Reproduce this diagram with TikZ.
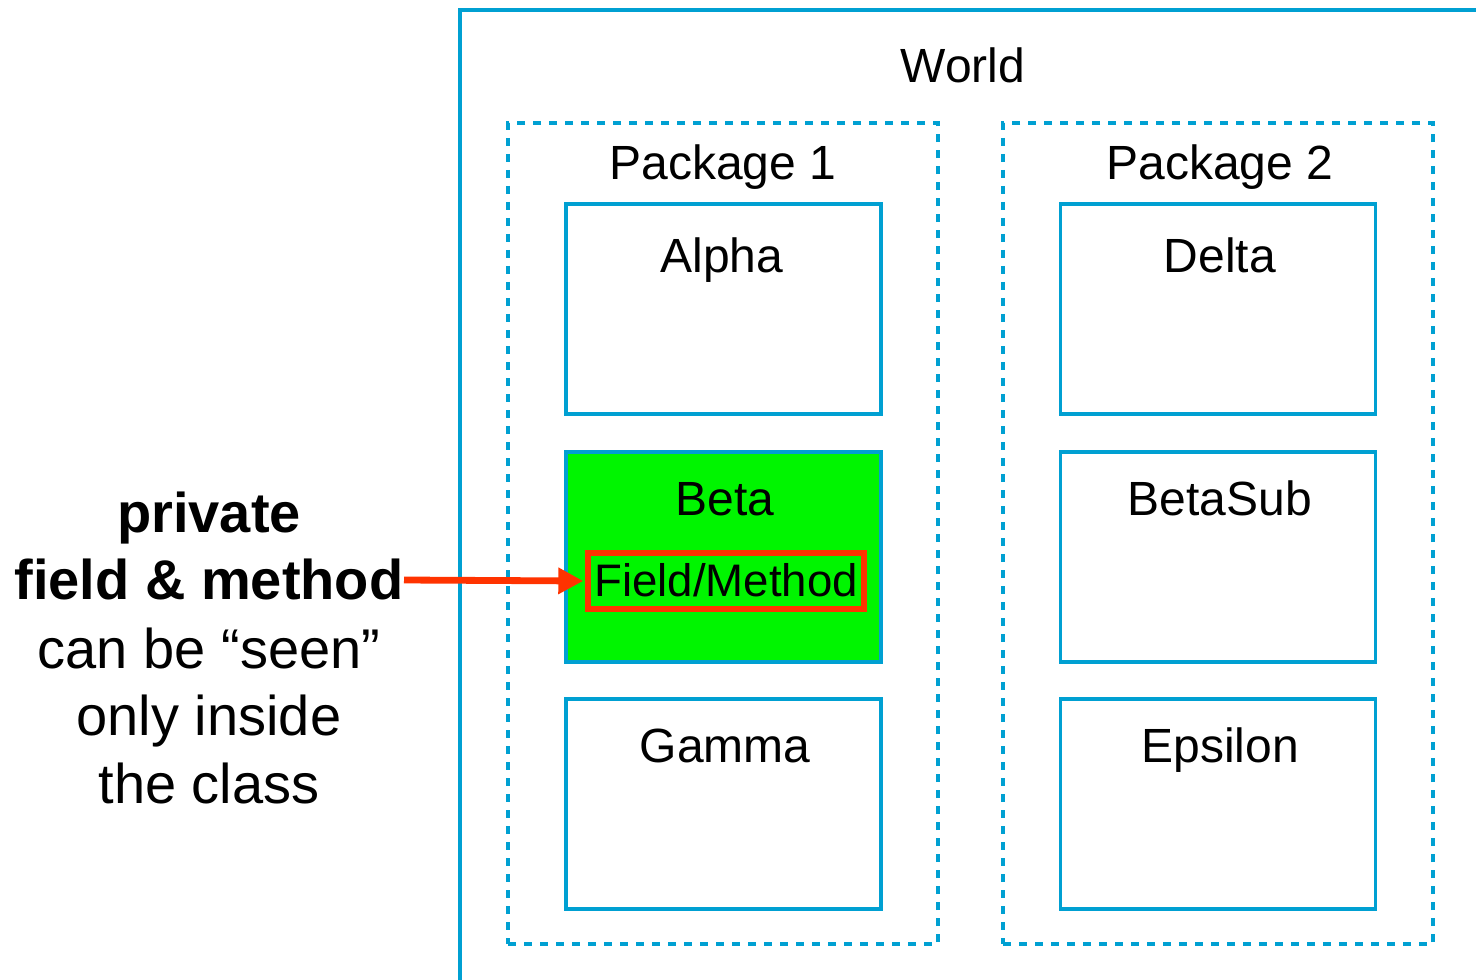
\documentclass[tikz,border=0pt]{standalone}
\usepackage{fontspec}
\setmainfont{Liberation Sans}
\usetikzlibrary{arrows.meta}
\definecolor{frameblue}{RGB}{0,160,210}
\definecolor{arrowred}{RGB}{255,51,0}
\definecolor{betagreen}{RGB}{0,245,0}
\begin{document}
\begin{tikzpicture}[x=0.5pt,y=-0.5pt,
  classbox/.style={draw=frameblue, line width=1.7pt, rectangle, minimum width=157.5pt, minimum height=105pt, inner sep=0pt},
  pkgbox/.style={draw=frameblue, line width=1.9pt, dash pattern=on 4pt off 4pt, rectangle, minimum width=215pt, minimum height=410.5pt, inner sep=0pt},
  boxtext/.style={anchor=base, font=\fontsize{24pt}{28pt}\selectfont, inner sep=0pt},
  sidetext/.style={anchor=base, font=\fontsize{28pt}{34pt}\selectfont, inner sep=0pt},
  sidebold/.style={sidetext, font=\fontsize{28pt}{34pt}\selectfont\bfseries}
]
\useasboundingbox (0,0) rectangle (1476,979);
\fill[white] (0,0) rectangle (1476,979);
\begin{scope}
\clip (0,0) rectangle (1476,979);
\draw[frameblue, line width=1.6pt] (460,1000) -- (460,10) -- (1500,10);
\end{scope}
\node[boxtext] (world) at (963,83) {World};
% packages
\node[pkgbox] (pkg1) at (723,533.5) {};
\node[pkgbox] (pkg2) at (1218,533.5) {};
\node[boxtext] (pkg1t) at (723,179) {Package 1};
\node[boxtext] (pkg2t) at (1220,179) {Package 2};
% classes
\node[classbox] (alpha) at (723.5,309) {};
\node[classbox, fill=betagreen] (beta) at (723.5,557) {};
\node[classbox] (gamma) at (723.5,804) {};
\node[classbox] (delta) at (1218,309) {};
\node[classbox] (betasub) at (1218,557) {};
\node[classbox] (epsilon) at (1218,804) {};
\node[boxtext] (alphat) at (722,272) {Alpha};
\node[boxtext] (betat) at (725,515) {Beta};
\node[boxtext] (gammat) at (725,762) {Gamma};
\node[boxtext] (deltat) at (1220,272) {Delta};
\node[boxtext] (betasubt) at (1220,515) {BetaSub};
\node[boxtext] (epsilont) at (1220,762) {Epsilon};
% field/method
\node[draw=arrowred, line width=2.7pt, rectangle, minimum width=138pt, minimum height=28pt, inner sep=0pt] (fm) at (726,581) {};
\node[anchor=base, font=\fontsize{22.8pt}{26pt}\selectfont, inner sep=0pt] (fmt) at (726,596) {Field/Method};
% side text
\node[sidebold] (l1) at (209,532) {private};
\node[sidebold] (l2) at (209,599) {field \& method};
\node[sidetext] (l3) at (209,668) {can be “seen”};
\node[sidetext] (l4) at (209,735) {only inside};
\node[sidetext] (l5) at (209,803) {the class};
\coordinate (astart) at (404,580);
\draw[arrowred, line width=3.4pt, -{Triangle[length=12.5pt,width=12.5pt]}, shorten >=1pt] (astart) -- (fm.west);
\end{tikzpicture}
\end{document}
